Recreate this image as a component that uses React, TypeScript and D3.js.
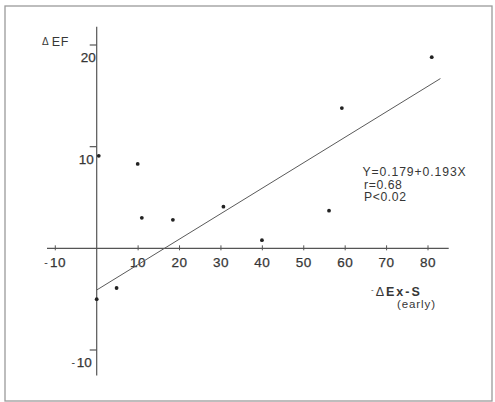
import React from "react";
import * as d3 from "d3";

// points: -ΔEx-S (early) vs ΔEF
const xVals = [0.5, 9.9, 10.9, 18.4, 30.6, 39.9, 56.1, 59.2, 80.9, 4.8, 0];
const yVals = [9.1, 8.3, 3.0, 2.8, 4.1, 0.8, 3.7, 13.8, 18.8, -3.9, -5.0];

// regression line end points as drawn
const fitX = [0, 83];
const fitY = [-4.1, 16.7];

const xTicks = [-10, 10, 20, 30, 40, 50, 60, 70, 80];
const yTicks = [-10, 10, 20];
const statsLines = ["Y=0.179+0.193X", "r=0.68", "P<0.02"];

const W = 495;
const H = 402;
const font = "'Liberation Sans', Arial, Helvetica, sans-serif";
const ink = "#363636";
const axisInk = "#555";

export default function App() {
  const x = d3.scaleLinear().domain([0, 80]).range([96.7, 428]);
  const y = d3.scaleLinear().domain([-10, 20]).range([350, 45]);

  const x0 = x(0);
  const y0 = y(0);

  const fitLine = d3
    .line<number>()
    .x((d) => x(fitX[d]))
    .y((d) => y(fitY[d]));

  const label = (v: number) =>
    v < 0 ? (
      <>
        <tspan fontSize={9} dy={-1}>-</tspan>
        <tspan dx={2} dy={1}>{Math.abs(v)}</tspan>
      </>
    ) : (
      String(v)
    );

  return (
    <svg
      width={W}
      height={H}
      style={{ position: "absolute", left: 0, top: 0, background: "#fff" }}
      fontFamily={font}
    >
      {/* frame of the scanned figure */}
      <rect x={5} y={6} width={487} height={395} fill="none" stroke="#9a9a9a" strokeWidth={1.3} />

      {/* x axis */}
      <line x1={x(-12)} x2={x(85)} y1={y0} y2={y0} stroke={axisInk} strokeWidth={1.2} />
      {xTicks.map((t) => (
        <g key={"xt" + t}>
          <line x1={x(t)} x2={x(t)} y1={y0 - 3} y2={y0 + 2} stroke={axisInk} strokeWidth={1} />
          <text
            x={x(t)}
            y={y0 + 19}
            textAnchor="middle"
            fontSize={13.5}
            fill={ink}
            stroke={ink}
            strokeWidth={0.25}
            letterSpacing={0.5}
          >
            {label(t)}
          </text>
        </g>
      ))}

      {/* y axis */}
      <line x1={x0} x2={x0} y1={y(21.8)} y2={y(-12.5)} stroke={axisInk} strokeWidth={1.2} />
      {yTicks.map((t) => (
        <g key={"yt" + t}>
          <line x1={x0 - 7} x2={x0} y1={y(t)} y2={y(t)} stroke={axisInk} strokeWidth={1.2} />
          <text
            x={x0 - (t < 0 ? 5 : t === 20 ? 1 : 3)}
            y={y(t) + 17}
            textAnchor="end"
            fontSize={13.5}
            fill={ink}
            stroke={ink}
            strokeWidth={0.25}
          >
            {label(t)}
          </text>
        </g>
      ))}

      {/* axis titles */}
      <text x={42} y={46} fontSize={12.5} fill={ink}>
        <tspan fontSize={10} dy={-1}>Δ</tspan>
        <tspan dx={3} dy={1} letterSpacing={0.8}>EF</tspan>
      </text>
      <text x={371} y={296} fontSize={12.5} fill={ink} fontWeight="bold" letterSpacing={2}>
        <tspan fontSize={8} fontWeight="normal" dy={-4}>-</tspan>
        <tspan dy={4} fontWeight="normal">Δ</tspan>
        <tspan>Ex-S</tspan>
      </text>
      <text x={397} y={308} fontSize={11.5} fill={ink} letterSpacing={0.9}>
        (early)
      </text>

      {/* regression line */}
      <path d={fitLine([0, 1]) ?? ""} fill="none" stroke="#5a5a5a" strokeWidth={1} />

      {/* data points */}
      {xVals.map((v, i) => (
        <circle key={"p" + i} cx={x(v)} cy={y(yVals[i])} r={1.9} fill="#222" />
      ))}

      {/* statistics */}
      {statsLines.map((s, i) => (
        <text
          key={"s" + i}
          x={i === 0 ? 362.5 : 364}
          y={176 + i * 12.7}
          fontSize={12.2}
          fill={ink}
          letterSpacing={i === 0 ? 0.9 : 0.6}
        >
          {s}
        </text>
      ))}
    </svg>
  );
}
